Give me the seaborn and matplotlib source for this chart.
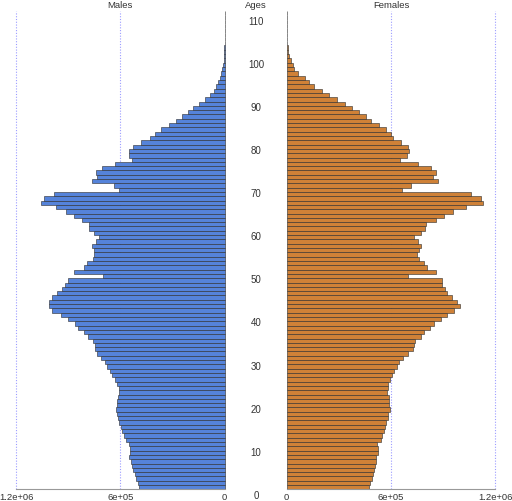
import numpy as np
import pandas as pd
import matplotlib
matplotlib.use("Agg")
import matplotlib.pyplot as plt
import seaborn as sns

# population by single year of age, in thousands
ages = list(range(111))

males_k = [
    493, 500, 512, 518, 527, 533, 539, 548, 546, 545,
    550, 565, 577, 588, 598, 606, 612, 622, 625, 617,
    617, 614, 608, 610, 622, 633, 648, 659, 675, 686,
    709, 732, 744, 746, 755, 788, 807, 845, 863, 903,
    943, 995, 1008, 1012, 993, 962, 935, 920, 899, 702,
    866, 809, 790, 759, 750, 750, 763, 740, 721, 753,
    778, 778, 819, 865, 911, 972, 1058, 1041, 981, 607,
    637, 765, 735, 740, 707, 629, 535, 548, 552, 527,
    479, 427, 401, 364, 322, 278, 243, 211, 180, 148,
    115, 84, 63, 50, 36, 27, 19, 13, 10, 6,
    4, 2.5, 1.5, 1, 0.5, 0.3, 0.2, 0.1, 0.05, 0.02, 0.01,
]

females_k = [
    471, 477, 490, 494, 500, 508, 513, 515, 523, 525,
    521, 540, 550, 558, 567, 573, 583, 583, 592, 590,
    587, 590, 577, 581, 585, 592, 608, 619, 635, 646,
    667, 696, 725, 731, 737, 773, 788, 827, 846, 888,
    923, 965, 996, 977, 952, 923, 910, 894, 894, 696,
    861, 808, 788, 763, 750, 760, 773, 756, 735, 773,
    798, 800, 856, 904, 958, 1029, 1127, 1117, 1058, 663,
    715, 871, 842, 860, 831, 754, 652, 694, 704, 696,
    658, 612, 600, 571, 533, 485, 456, 415, 375, 337,
    288, 244, 202, 158, 127, 106, 67, 44, 35, 23,
    15, 10, 6, 4, 2.5, 1.5, 0.8, 0.4, 0.2, 0.1, 0.05,
]

age_labels = list(range(0, 111, 10))
x_ticks = [0, 600000, 1200000]
x_tick_labels = ["0", "6e+05", "1.2e+06"]

df = pd.DataFrame({
    "age": ages,
    "Males": np.array(males_k) * 1000,
    "Females": np.array(females_k) * 1000,
})

sns.set_style("white")
plt.rcParams["font.family"] = ["Liberation Sans", "DejaVu Sans"]

fig = plt.figure(figsize=(5.12, 5.01), dpi=100)
ax_m = fig.add_axes([0.03125, 0.0232, 0.4076, 0.9548])
ax_f = fig.add_axes([0.5600, 0.0232, 0.4074, 0.9548])

grid_col = "#9c9cff"
text_col = "#333333"
fs = 6.8


def draw_side(ax, col, color):
    sns.barplot(data=df, x=col, y="age", orient="y", native_scale=True,
                width=1.0, color=color, edgecolor="#2a2a2a", linewidth=0.4,
                errorbar=None, ax=ax, zorder=2)
    # keep the zero-edge of the tiny top bars visible at the panel border
    for p in ax.patches:
        p.set_clip_on(False)
    ax.set_xlim(0, 1200000)
    ax.set_ylim(-0.5, 110.5)
    for gx in [600000, 1200000]:
        ax.axvline(gx, color=grid_col, linestyle=(0, (1, 1.5)), linewidth=0.8,
                   zorder=1, clip_on=False)
    for side in ["top", "left", "right"]:
        ax.spines[side].set_visible(False)
    ax.spines["bottom"].set_color("#999999")
    ax.spines["bottom"].set_linewidth(0.8)
    ax.set_yticks([])
    ax.set_xticks(x_ticks)
    ax.set_xticklabels(x_tick_labels)
    ax.tick_params(axis="x", length=2.5, width=0.8, color="#999999",
                   labelsize=fs, labelcolor=text_col, pad=0.2)
    ax.set_xlabel("")
    ax.set_ylabel("")
    ax.patch.set_alpha(0)


draw_side(ax_m, "Males", "#3f7cf0")
ax_m.invert_xaxis()
draw_side(ax_f, "Females", "#e8801e")

# age labels in the middle column (offset two rows below the bars, as in the original)
for a in age_labels:
    ax_m.text(1.0 + (256 - 224.7) / 208.7, a - 2, str(a),
              transform=ax_m.get_yaxis_transform(), ha="center", va="center",
              fontsize=7.0, color=text_col, clip_on=False)

fig.text(120 / 512, 1 - 5 / 501, "Males", ha="center", va="center",
         fontsize=fs, color=text_col)
fig.text(256 / 512, 1 - 5 / 501, "Ages", ha="center", va="center",
         fontsize=fs, color=text_col)
fig.text(391 / 512, 1 - 5 / 501, "Females", ha="center", va="center",
         fontsize=fs, color=text_col)

fig.savefig("out.png", dpi=100)
